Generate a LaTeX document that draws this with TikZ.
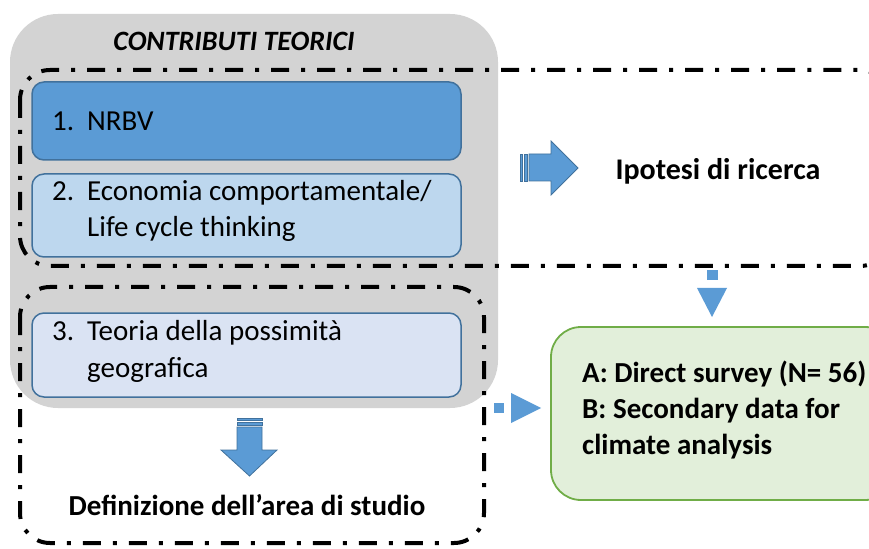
\documentclass[tikz,border=0pt]{standalone}
\usepackage{fontspec}
\setmainfont{Carlito}
\definecolor{graybg}{RGB}{211,211,211}
\definecolor{blueA}{RGB}{91,155,213}
\definecolor{blueLine}{RGB}{65,113,156}
\definecolor{blueB}{RGB}{189,215,238}
\definecolor{blueC}{RGB}{218,227,243}
\definecolor{greenF}{RGB}{226,239,218}
\definecolor{greenL}{RGB}{112,173,71}
\tikzset{
  frame/.style={draw=black, line width=4bp, dash pattern=on 18bp off 12bp on 4bp off 12bp, rounded corners=30bp},
  itembox/.style={draw=blueLine, line width=1.5bp, rounded corners=12bp},
  txt/.style={inner sep=0pt, font=\fontsize{29bp}{36bp}\selectfont},
  btxt/.style={inner sep=0pt, font=\fontsize{29bp}{36bp}\selectfont\bfseries},
  blockarrow/.style={fill=blueA, draw=blueLine, line width=0.8bp, line join=miter},
  smallarrow/.style={fill=blueA, draw=none}
}
\begin{document}
\begin{tikzpicture}[x=1bp, y=-1bp]
\useasboundingbox (0,0) rectangle (869,549);
\clip (0,0) rectangle (869,549);
% grey background panel
\path[fill=graybg, rounded corners=48bp] (10,14) rectangle (498,408);
\node[btxt, font=\fontsize{28bp}{34bp}\selectfont\bfseries\itshape, anchor=base] (title) at (234,51) {CONTRIBUTI TEORICI};
% dash-dot frames
\draw[frame] (20,70) rectangle (890,266);
\draw[frame] (20,287) rectangle (484,543);
% item boxes
\path[itembox, fill=blueA] (32,82) rectangle (461,160);
\path[itembox, fill=blueB] (32,174) rectangle (461,257);
\path[itembox, fill=blueC] (32,313) rectangle (461,397);
\node[txt, anchor=base west] (t1) at (52,131) {\begin{tabular}[t]{@{}p{35bp}@{}l@{}}1. & NRBV\end{tabular}};
\node[txt, anchor=base west] (t2) at (52,201) {\begin{tabular}[t]{@{}p{35bp}@{}l@{}}2. & Economia comportamentale/\\ & Life cycle thinking\end{tabular}};
\node[txt, anchor=base west] (t3) at (52,341) {\begin{tabular}[t]{@{}p{35bp}@{}l@{}}3. & Teoria della possimità\\ & geografica\end{tabular}};
% striped right arrow
\path[blockarrow] (520,154) rectangle (522.5,181);
\path[blockarrow] (524.5,154) rectangle (527,181);
\path[blockarrow] (529,154) -- (551,154) -- (551,141) -- (578,168) -- (551,195) -- (551,181) -- (529,181) -- cycle;
\node[btxt, font=\fontsize{30bp}{36bp}\selectfont\bfseries, anchor=base] (hyp) at (718,180) {Ipotesi di ricerca};
% striped down arrow
\path[blockarrow] (237,418) rectangle (262,420.5);
\path[blockarrow] (237,422.5) rectangle (262,425);
\path[blockarrow] (237,427) -- (237,450) -- (221,450) -- (249.5,476) -- (277,450) -- (262,450) -- (262,427) -- cycle;
\node[btxt, anchor=base] (area) at (247,515) {Definizione dell’area di studio};
% small dotted arrows
\path[smallarrow] (707,270) rectangle (718,280);
\path[smallarrow] (697,288) -- (727,288) -- (712,317) -- cycle;
\path[smallarrow] (494,403) rectangle (504,413);
\path[smallarrow] (511,393) -- (541,408) -- (511,423) -- cycle;
% green data box
\path[fill=greenF, draw=greenL, line width=1.8bp, rounded corners=30bp] (551,327) rectangle (895,500);
\node[btxt, anchor=base west] (data) at (582,382) {\begin{tabular}[t]{@{}l@{}}A: Direct survey (N= 56)\\ B: Secondary data for\\ climate analysis\end{tabular}};
\end{tikzpicture}
\end{document}
